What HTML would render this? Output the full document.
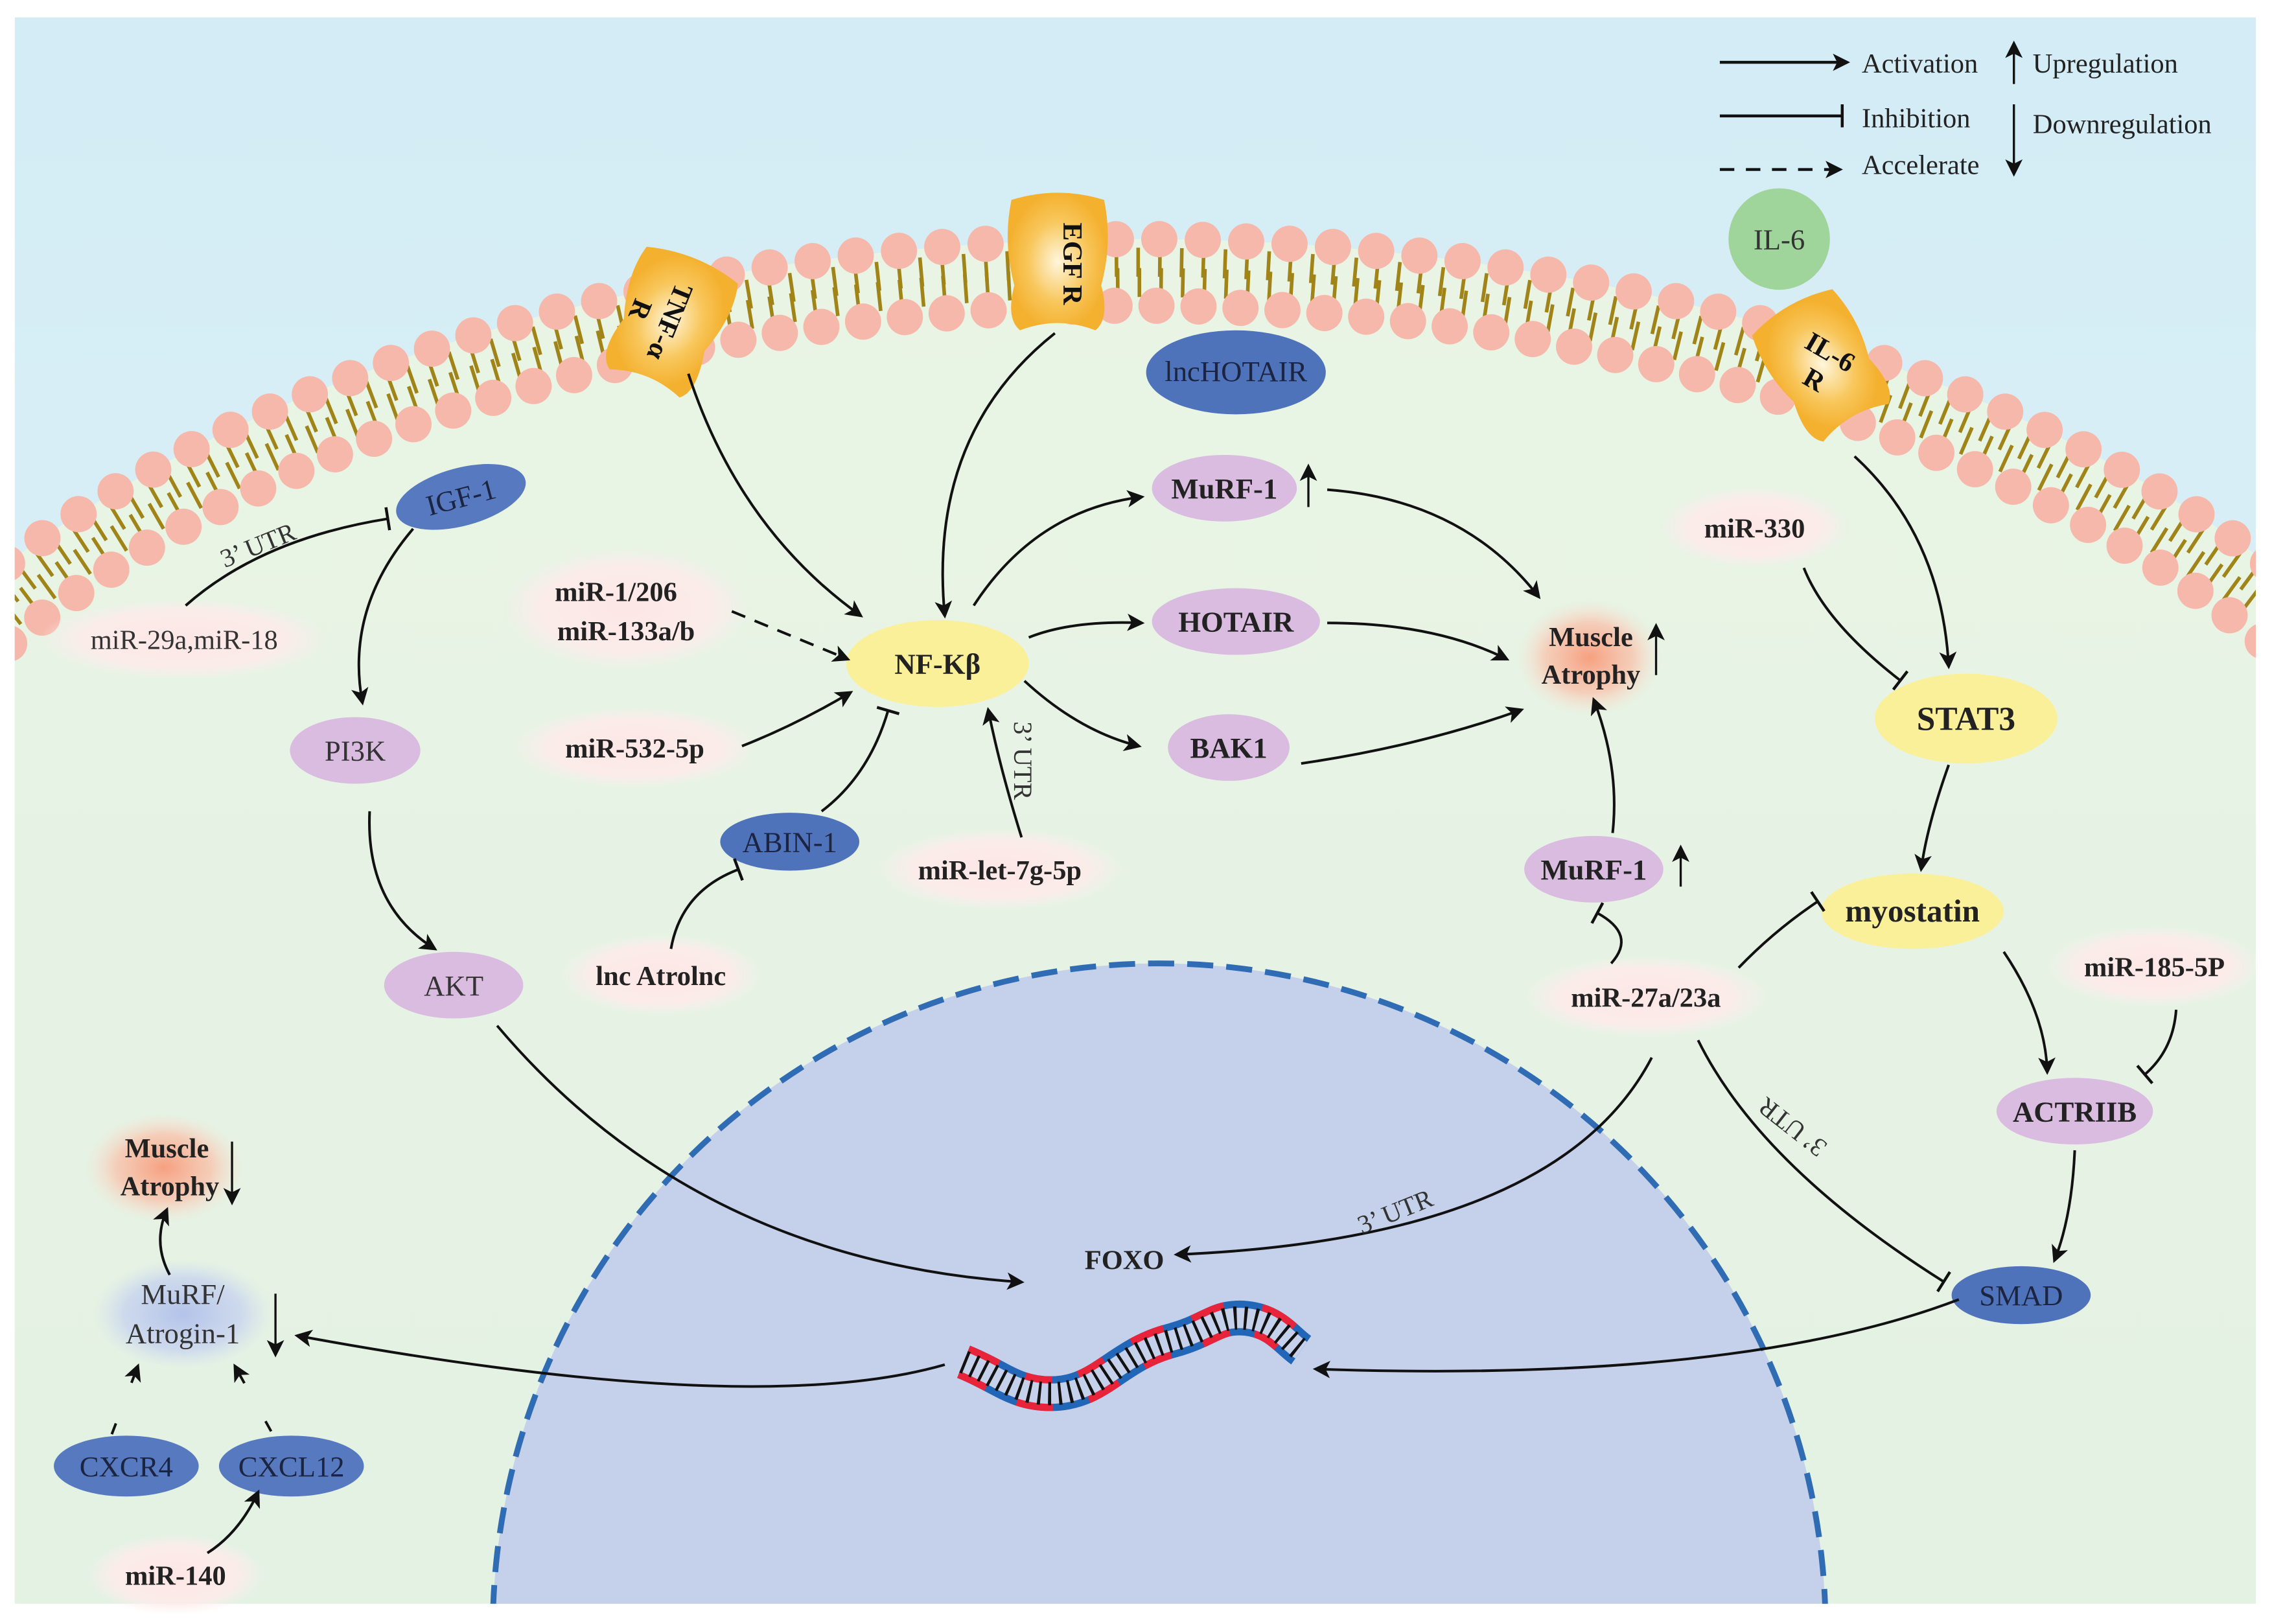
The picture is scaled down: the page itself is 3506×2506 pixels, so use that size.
<!DOCTYPE html>
<html><head><meta charset="utf-8"><style>html,body{margin:0;padding:0;background:#fff;overflow:hidden;width:3506px;height:2506px}svg{display:block}</style></head>
<body>
<svg width="3506" height="2506" viewBox="0 0 1568 1121" xmlns="http://www.w3.org/2000/svg" font-family="'Liberation Serif',serif">
<defs>
<linearGradient id="sky" x1="0" y1="0" x2="0" y2="1"><stop offset="0" stop-color="#d3ecf5"/><stop offset="1" stop-color="#e4f3f7"/></linearGradient>
<linearGradient id="cell" x1="0" y1="0" x2="0" y2="1"><stop offset="0" stop-color="#e9f4e4"/><stop offset="1" stop-color="#e2f1e3"/></linearGradient>
<radialGradient id="rec"><stop offset="0" stop-color="#fff6dc"/><stop offset="0.6" stop-color="#f8c65a"/><stop offset="1" stop-color="#f4b130"/></radialGradient>
<radialGradient id="glowO"><stop offset="0" stop-color="#f6a080"/><stop offset="0.6" stop-color="#f8c4ae" stop-opacity="0.8"/><stop offset="1" stop-color="#fbe0d4" stop-opacity="0"/></radialGradient>
<radialGradient id="glowP"><stop offset="0" stop-color="#fde6e6"/><stop offset="0.7" stop-color="#fdebea" stop-opacity="0.9"/><stop offset="1" stop-color="#fdeeee" stop-opacity="0"/></radialGradient>
<radialGradient id="glowB"><stop offset="0" stop-color="#b3c3ea"/><stop offset="0.65" stop-color="#c7d3ee" stop-opacity="0.8"/><stop offset="1" stop-color="#d5def0" stop-opacity="0"/></radialGradient>
<marker id="ar" viewBox="0 0 12 12" refX="10" refY="6" markerWidth="12" markerHeight="12" markerUnits="userSpaceOnUse" orient="auto"><path d="M0,0 L12,6 L0,12 L3,6 Z" fill="#111"/></marker>
<marker id="inh" viewBox="0 0 4 16" refX="2" refY="8" markerWidth="4" markerHeight="16" markerUnits="userSpaceOnUse" orient="auto"><rect x="0.5" y="0" width="2" height="16" fill="#111"/></marker>
<clipPath id="clip"><rect x="10" y="12" width="1547" height="1095"/></clipPath>
<clipPath id="clipm"><rect x="0" y="0" width="1568" height="700"/></clipPath>
</defs>
<g clip-path="url(#clip)">
<rect x="10" y="12" width="1547" height="1095" fill="url(#sky)"/>
<ellipse cx="785" cy="763" rx="1000" ry="598" fill="url(#cell)"/>
<g clip-path="url(#clipm)">
<ellipse cx="785" cy="763" rx="984" ry="582" fill="none" stroke="#a08418" stroke-width="20" stroke-dasharray="2.5 12.5"/>
<ellipse cx="785" cy="763" rx="970" ry="568" fill="none" stroke="#a08418" stroke-width="20" stroke-dasharray="2.5 12.5" stroke-dashoffset="4"/>
<ellipse cx="785" cy="763" rx="1000" ry="598" fill="none" stroke="#f6b8aa" stroke-width="25" stroke-linecap="round" stroke-dasharray="0 30"/>
<ellipse cx="785" cy="763" rx="954" ry="552" fill="none" stroke="#f6b8aa" stroke-width="25" stroke-linecap="round" stroke-dasharray="0 29"/>
</g>
<circle cx="800" cy="1125" r="460" fill="#c5d0ea" stroke="#2f6cb4" stroke-width="4" stroke-dasharray="18 9"/>
</g>

<!-- receptors -->
<g transform="translate(462,222) rotate(22)">
<path d="M-34,-42 Q0,-52 34,-42 Q40,-20 30,10 Q36,38 26,46 Q0,36 -26,46 Q-38,38 -30,10 Q-40,-20 -34,-42Z" fill="url(#rec)"/>
<text x="0" y="0" transform="rotate(90)" font-size="19" font-weight="bold" text-anchor="middle" fill="#111"><tspan x="0" y="6">TNF-α</tspan><tspan x="0" y="28">R</tspan></text>
</g>
<g transform="translate(730,182)">
<path d="M-32,-44 Q0,-54 32,-44 Q38,-15 30,15 Q36,38 26,46 Q0,36 -26,46 Q-36,38 -30,15 Q-38,-15 -32,-44Z" fill="url(#rec)"/>
<text transform="rotate(90)" x="0" y="-4" font-size="19" font-weight="bold" text-anchor="middle" fill="#111">EGF R</text>
</g>
<g transform="translate(1258,252) rotate(-30)">
<path d="M-32,-42 Q0,-52 32,-42 Q38,-15 30,12 Q36,38 26,46 Q0,36 -26,46 Q-36,38 -30,12 Q-38,-15 -32,-42Z" fill="url(#rec)"/>
<text transform="rotate(60)" font-size="19" font-weight="bold" text-anchor="middle" fill="#111"><tspan x="0" y="-4">IL-6</tspan><tspan x="0" y="18">R</tspan></text>
</g>

<!-- legend -->
<g font-size="19" fill="#222">
<line x1="1187" y1="43" x2="1275" y2="43" stroke="#111" stroke-width="2" marker-end="url(#ar)"/>
<text x="1285" y="50">Activation</text>
<line x1="1390" y1="58" x2="1390" y2="30" stroke="#111" stroke-width="1.5" marker-end="url(#ar)"/>
<text x="1403" y="50">Upregulation</text>
<line x1="1187" y1="80" x2="1272" y2="80" stroke="#111" stroke-width="2" marker-end="url(#inh)"/>
<text x="1285" y="88">Inhibition</text>
<text x="1403" y="92">Downregulation</text>
<line x1="1390" y1="72" x2="1390" y2="120" stroke="#111" stroke-width="1.5" marker-end="url(#ar)"/>
<line x1="1187" y1="117" x2="1270" y2="117" stroke="#111" stroke-width="2" stroke-dasharray="10 8" marker-end="url(#ar)"/>
<text x="1285" y="120">Accelerate</text>
</g>

<!-- glows -->
<ellipse cx="127" cy="441" rx="100" ry="28" fill="url(#glowP)"/>
<ellipse cx="432" cy="420" rx="85" ry="42" fill="url(#glowP)"/>
<ellipse cx="438" cy="516" rx="85" ry="28" fill="url(#glowP)"/>
<ellipse cx="690" cy="600" rx="85" ry="28" fill="url(#glowP)"/>
<ellipse cx="456" cy="673" rx="70" ry="28" fill="url(#glowP)"/>
<ellipse cx="1211" cy="364" rx="65" ry="28" fill="url(#glowP)"/>
<ellipse cx="1136" cy="688" rx="85" ry="28" fill="url(#glowP)"/>
<ellipse cx="1487" cy="667" rx="75" ry="28" fill="url(#glowP)"/>
<ellipse cx="121" cy="1087" rx="62" ry="28" fill="url(#glowP)"/>
<ellipse cx="1097" cy="454" rx="50" ry="40" fill="url(#glowO)"/>
<ellipse cx="113" cy="806" rx="55" ry="38" fill="url(#glowO)"/>
<ellipse cx="126" cy="907" rx="62" ry="38" fill="url(#glowB)"/>

<!-- nodes -->
<g font-size="20" text-anchor="middle" fill="#1b2440">
<ellipse cx="318" cy="343" rx="46" ry="20" transform="rotate(-15 318 343)" fill="#5679bf"/>
<text x="318" y="350" transform="rotate(-15 318 343)">IGF-1</text>
<ellipse cx="853" cy="257" rx="62" ry="29" fill="#4f73ba"/>
<text x="853" y="263">lncHOTAIR</text>
<circle cx="1228" cy="165" r="35" fill="#9fd49a"/>
<text x="1228" y="172" fill="#333">IL-6</text>
<ellipse cx="545" cy="581" rx="48" ry="20" fill="#4f73ba"/>
<text x="545" y="588">ABIN-1</text>
<ellipse cx="1395" cy="894" rx="48" ry="20" fill="#4f73ba"/>
<text x="1395" y="901">SMAD</text>
<ellipse cx="87" cy="1012" rx="50" ry="21" fill="#5679bf"/>
<text x="87" y="1019">CXCR4</text>
<ellipse cx="201" cy="1012" rx="50" ry="21" fill="#5679bf"/>
<text x="201" y="1019">CXCL12</text>
<g fill="#d9bce0">
<ellipse cx="845" cy="337" rx="50" ry="23"/>
<ellipse cx="853" cy="429" rx="58" ry="23"/>
<ellipse cx="848" cy="516" rx="42" ry="23"/>
<ellipse cx="245" cy="518" rx="45" ry="23"/>
<ellipse cx="313" cy="680" rx="48" ry="23"/>
<ellipse cx="1100" cy="600" rx="48" ry="23"/>
<ellipse cx="1432" cy="767" rx="54" ry="23"/>
</g>
<g fill="#fbf09a">
<ellipse cx="647" cy="458" rx="63" ry="30"/>
<ellipse cx="1357" cy="496" rx="63" ry="31"/>
<ellipse cx="1320" cy="629" rx="63" ry="26"/>
</g>
<g fill="#222">
<text x="845" y="344" font-weight="bold">MuRF-1</text>
<text x="853" y="436" font-weight="bold">HOTAIR</text>
<text x="848" y="523" font-weight="bold">BAK1</text>
<text x="245" y="525" fill="#333">PI3K</text>
<text x="313" y="687" fill="#333">AKT</text>
<text x="1100" y="607" font-weight="bold">MuRF-1</text>
<text x="1432" y="774" font-weight="bold">ACTRIIB</text>
<text x="647" y="465" font-weight="bold">NF-Kβ</text>
<text x="1357" y="504" font-weight="bold" font-size="23">STAT3</text>
<text x="1320" y="636" font-weight="bold" font-size="22">myostatin</text>
</g>
<g fill="#222" font-weight="bold" font-size="19">
<text x="127" y="448" font-weight="normal" fill="#333">miR-29a,miR-18</text>
<text x="425" y="415">miR-1/206</text>
<text x="432" y="442">miR-133a/b</text>
<text x="438" y="523">miR-532-5p</text>
<text x="690" y="607">miR-let-7g-5p</text>
<text x="456" y="680">lnc Atrolnc</text>
<text x="1211" y="371">miR-330</text>
<text x="1136" y="695">miR-27a/23a</text>
<text x="1487" y="674">miR-185-5P</text>
<text x="121" y="1094">miR-140</text>
<text x="1098" y="446">Muscle</text>
<text x="1098" y="472">Atrophy</text>
<text x="115" y="799">Muscle</text>
<text x="117" y="825">Atrophy</text>
<text x="776" y="876">FOXO</text>
</g>
<text x="126" y="900" fill="#333">MuRF/</text>
<text x="126" y="927" fill="#333">Atrogin-1</text>
</g>

<!-- up/down arrows -->
<g stroke="#111" stroke-width="1.5" fill="none">
<line x1="903" y1="350" x2="903" y2="322" marker-end="url(#ar)"/>
<line x1="1143" y1="466" x2="1143" y2="432" marker-end="url(#ar)"/>
<line x1="1160" y1="612" x2="1160" y2="585" marker-end="url(#ar)"/>
<line x1="160" y1="788" x2="160" y2="830" marker-end="url(#ar)"/>
<line x1="190" y1="893" x2="190" y2="935" marker-end="url(#ar)"/>
</g>

<!-- connectors -->
<g stroke="#111" stroke-width="1.8" fill="none">
<path d="M128,418 Q180,372 268,358" marker-end="url(#inh)"/>
<path d="M285,365 Q238,420 250,485" marker-end="url(#ar)"/>
<path d="M255,560 Q252,625 300,655" marker-end="url(#ar)"/>
<path d="M343,708 Q480,870 705,885" marker-end="url(#ar)"/>
<path d="M475,258 Q510,365 594,425" marker-end="url(#ar)"/>
<path d="M728,230 Q640,300 652,425" marker-end="url(#ar)"/>
<path d="M505,422 L585,455" stroke-dasharray="10 7" marker-end="url(#ar)"/>
<path d="M512,515 Q550,500 587,478" marker-end="url(#ar)"/>
<path d="M567,560 Q600,535 613,490" marker-end="url(#inh)"/>
<path d="M463,655 Q470,615 510,600" marker-end="url(#inh)"/>
<path d="M705,578 Q690,530 682,490" marker-end="url(#ar)"/>
<path d="M672,418 Q715,352 788,343" marker-end="url(#ar)"/>
<path d="M710,440 Q740,428 788,430" marker-end="url(#ar)"/>
<path d="M707,470 Q745,505 786,515" marker-end="url(#ar)"/>
<path d="M916,338 Q1010,345 1062,412" marker-end="url(#ar)"/>
<path d="M916,430 Q990,430 1040,455" marker-end="url(#ar)"/>
<path d="M898,527 Q980,515 1050,490" marker-end="url(#ar)"/>
<path d="M1113,575 Q1118,530 1100,483" marker-end="url(#ar)"/>
<path d="M1112,665 Q1130,645 1102,630" marker-end="url(#inh)"/>
<path d="M1200,668 Q1225,642 1255,622" marker-end="url(#inh)"/>
<path d="M1140,730 Q1075,855 812,866" marker-end="url(#ar)"/>
<path d="M1172,718 Q1215,805 1342,885" marker-end="url(#inh)"/>
<path d="M1280,315 Q1340,370 1345,460" marker-end="url(#ar)"/>
<path d="M1245,392 Q1260,430 1312,470" marker-end="url(#inh)"/>
<path d="M1345,528 Q1330,570 1326,600" marker-end="url(#ar)"/>
<path d="M1383,657 Q1412,700 1413,740" marker-end="url(#ar)"/>
<path d="M1502,697 Q1500,725 1480,742" marker-end="url(#inh)"/>
<path d="M1432,794 Q1430,840 1418,870" marker-end="url(#ar)"/>
<path d="M1352,897 Q1200,955 908,945" marker-end="url(#ar)"/>
<path d="M652,942 Q520,980 205,922" marker-end="url(#ar)"/>
<path d="M117,880 Q105,858 115,835" marker-end="url(#ar)"/>
<path d="M77,990 L95,943" stroke-dasharray="8 30" marker-end="url(#ar)"/>
<path d="M187,988 L162,943" stroke-dasharray="8 30" marker-end="url(#ar)"/>
<path d="M143,1072 Q165,1058 178,1030" marker-end="url(#ar)"/>
</g>
<g font-size="18" fill="#333">
<text transform="translate(155,392) rotate(-22)">3’ UTR</text>
<text transform="translate(700,498) rotate(90)">3’ UTR</text>
<text transform="translate(940,852) rotate(-22)">3’ UTR</text>
<text transform="translate(1262,790) rotate(218)">3’ UTR</text>
</g>

<!-- DNA -->
<g fill="none">
<path d="M665,940 C690,950 700,962 725,962 C760,962 770,935 810,925 C835,918 840,908 860,910 C880,912 888,925 898,932" stroke="#2266b8" stroke-width="24"/>
<path d="M665,940 C690,950 700,962 725,962 C760,962 770,935 810,925 C835,918 840,908 860,910 C880,912 888,925 898,932" stroke="#e8243a" stroke-width="24" stroke-dasharray="22 22"/>
<path d="M665,940 C690,950 700,962 725,962 C760,962 770,935 810,925 C835,918 840,908 860,910 C880,912 888,925 898,932" stroke="#c5d0ea" stroke-width="14"/>
<path d="M665,940 C690,950 700,962 725,962 C760,962 770,935 810,925 C835,918 840,908 860,910 C880,912 888,925 898,932" stroke="#111" stroke-width="16" stroke-dasharray="2 5"/>
</g>
</svg>
</body></html>
